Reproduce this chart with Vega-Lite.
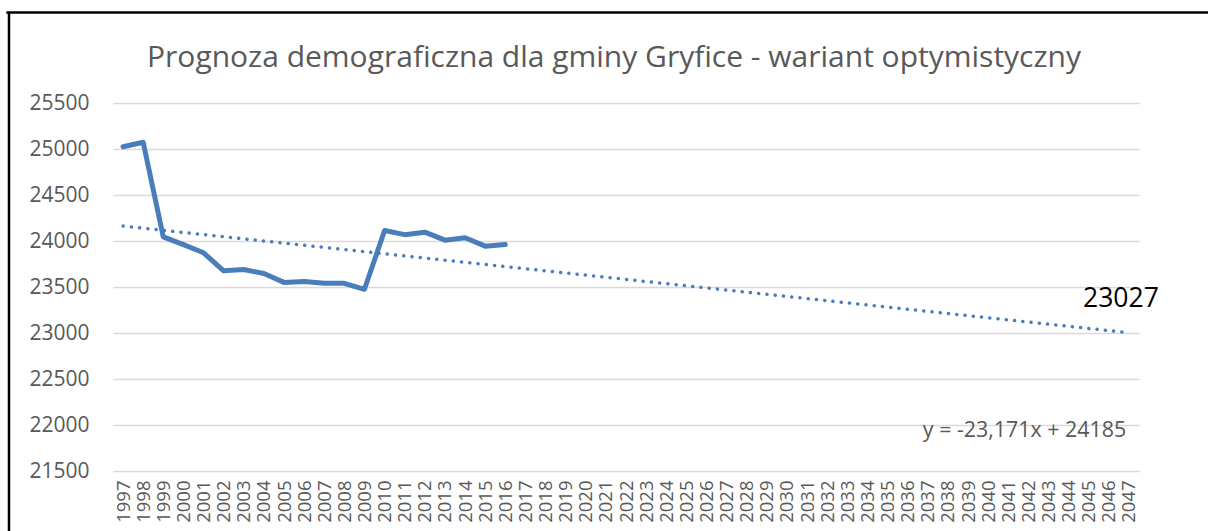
{
  "$schema": "https://vega.github.io/schema/vega-lite/v6.json",
  "width": 1026,
  "height": 368,
  "autosize": {"type": "none"},
  "padding": {"left": 113, "top": 103, "right": 69, "bottom": 60},
  "background": "white",
  "config": {"view": {"stroke": null}, "font": "Open Sans"},
  "title": {
    "text": "Prognoza demograficzna dla gminy Gryfice - wariant optymistyczny",
    "font": "Open Sans",
    "fontSize": 30,
    "fontWeight": "normal",
    "color": "#595959",
    "anchor": "middle",
    "frame": "group",
    "baseline": "alphabetic",
    "dx": -12,
    "offset": -86
  },
  "datasets": {
    "pop": [
      {"year": 1997, "value": 25025},
      {"year": 1998, "value": 25073},
      {"year": 1999, "value": 24044},
      {"year": 2000, "value": 23960},
      {"year": 2001, "value": 23872},
      {"year": 2002, "value": 23676},
      {"year": 2003, "value": 23690},
      {"year": 2004, "value": 23647},
      {"year": 2005, "value": 23550},
      {"year": 2006, "value": 23561},
      {"year": 2007, "value": 23540},
      {"year": 2008, "value": 23540},
      {"year": 2009, "value": 23475},
      {"year": 2010, "value": 24114},
      {"year": 2011, "value": 24069},
      {"year": 2012, "value": 24096},
      {"year": 2013, "value": 24009},
      {"year": 2014, "value": 24036},
      {"year": 2015, "value": 23944},
      {"year": 2016, "value": 23962}
    ],
    "trend": [
      {"year": 1997, "value": 24162},
      {"year": 2047, "value": 23003}
    ],
    "frameLeft": [{"year": 1991.33, "value": 26484, "value2": 19000}],
    "frameTop": [{"year": 1991.2, "year2": 2100, "value": 26484}],
    "endLabel": [{"year": 2046.6, "value": 23366, "label": "23027"}],
    "equation": [{"year": 2041.81, "value": 21940, "label": "y = -23,171x + 24185"}]
  },
  "encoding": {
    "x": {
      "field": "year",
      "type": "quantitative",
      "scale": {"domain": [1996.5, 2047.5], "nice": false, "zero": false},
      "axis": {
        "title": null,
        "values": [1997,1998,1999,2000,2001,2002,2003,2004,2005,2006,2007,2008,2009,2010,2011,2012,2013,2014,2015,2016,2017,2018,2019,2020,2021,2022,2023,2024,2025,2026,2027,2028,2029,2030,2031,2032,2033,2034,2035,2036,2037,2038,2039,2040,2041,2042,2043,2044,2045,2046,2047],
        "format": "d",
        "labelAngle": 270,
        "labelOverlap": false,
        "labelSeparation": -15,
        "labelBound": false,
        "labelFlush": false,
        "labelFont": "Open Sans",
        "labelFontSize": 18.5,
        "labelColor": "#595959",
        "labelPadding": 9,
        "ticks": false,
        "grid": false,
        "domain": false
      }
    },
    "y": {
      "field": "value",
      "type": "quantitative",
      "scale": {"domain": [21500, 25500], "nice": false, "zero": false},
      "axis": {
        "title": null,
        "values": [21500, 22000, 22500, 23000, 23500, 24000, 24500, 25000, 25500],
        "format": "d",
        "labelFont": "Open Sans",
        "labelFontSize": 21,
        "labelColor": "#595959",
        "labelPadding": 24,
        "ticks": false,
        "domain": false,
        "grid": true,
        "gridColor": "#D9D9D9",
        "gridWidth": 1.3
      }
    }
  },
  "layer": [
    {
      "data": {"name": "pop"},
      "mark": {"type": "line", "color": "#4A7EBB", "strokeWidth": 5, "strokeJoin": "round", "strokeCap": "round"}
    },
    {
      "data": {"name": "trend"},
      "mark": {"type": "line", "color": "#4A7EBB", "strokeWidth": 3.5, "strokeCap": "round", "strokeDash": [0.1, 8.2]}
    },
    {
      "data": {"name": "frameLeft"},
      "mark": {"type": "rule", "stroke": "#000000", "strokeWidth": 2.5, "clip": false},
      "encoding": {
        "y2": {"field": "value2"}
      }
    },
    {
      "data": {"name": "frameTop"},
      "mark": {"type": "rule", "stroke": "#000000", "strokeWidth": 2.5, "clip": false},
      "encoding": {
        "x2": {"field": "year2"}
      }
    },
    {
      "data": {"name": "endLabel"},
      "mark": {"type": "text", "font": "Open Sans", "fontSize": 26.5, "color": "#000000", "align": "center", "baseline": "middle", "clip": false},
      "encoding": {
        "text": {"field": "label", "type": "nominal"}
      }
    },
    {
      "data": {"name": "equation"},
      "mark": {"type": "text", "font": "Open Sans", "fontSize": 21.4, "color": "#595959", "align": "center", "baseline": "middle", "clip": false},
      "encoding": {
        "text": {"field": "label", "type": "nominal"}
      }
    }
  ]
}
